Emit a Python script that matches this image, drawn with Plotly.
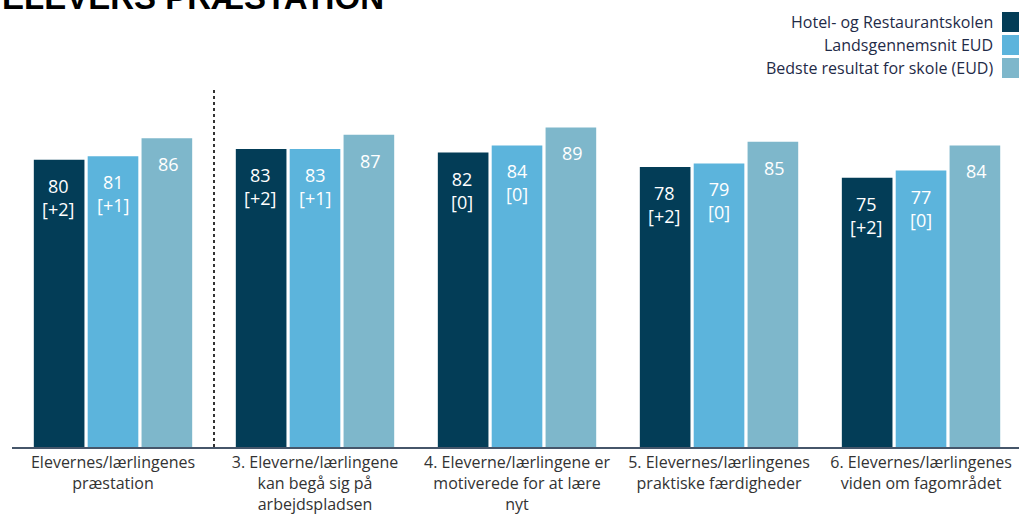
import plotly.graph_objects as go

categories = [
    "Elevernes/lærlingenes<br>præstation",
    "3. Eleverne/lærlingene<br>kan begå sig på<br>arbejdspladsen",
    "4. Eleverne/lærlingene er<br>motiverede for at lære<br>nyt",
    "5. Elevernes/lærlingenes<br>praktiske færdigheder",
    "6. Elevernes/lærlingenes<br>viden om fagområdet",
]
series_names = ["Hotel- og Restaurantskolen", "Landsgennemsnit EUD", "Bedste resultat for skole (EUD)"]
school = [80, 83, 82, 78, 75]
school_change = ["+2", "+2", "0", "+2", "+2"]
national = [81, 83, 84, 79, 77]
national_change = ["+1", "+1", "0", "0", "0"]
best = [86, 87, 89, 85, 84]
colors = ["#033d57", "#5cb4dc", "#7eb7cb"]
title = "ELEVERS PRÆSTATION"

x = list(range(len(categories)))
fig = go.Figure()
texts = [
    [f"{v}<br>[{c}]" for v, c in zip(school, school_change)],
    [f"{v}<br>[{c}]" for v, c in zip(national, national_change)],
    [f"{v}" for v in best],
]
shifts = [-55, 0, 55]
for name, vals, col, txt, sh in zip(series_names, [school, national, best], colors, texts, shifts):
    fig.add_trace(go.Bar(
        x=x, y=vals, name=name, marker=dict(color=col, line=dict(width=0)),
        showlegend=False, hoverinfo="skip",
    ))
    for xi, v, t in zip(x, vals, txt):
        fig.add_annotation(x=xi, y=v, xref="x", yref="y", text=t, showarrow=False,
                           xshift=sh, yshift=-12, yanchor="top", xanchor="center",
                           align="center",
                           font=dict(color="#ffffff", size=18, family="Open Sans"))

# custom legend (right aligned text, square on right)
for i, (name, col) in enumerate(zip(series_names, colors)):
    ypix = 22 + i * 23
    fig.add_annotation(xref="paper", yref="paper", x=1.0, xshift=-24,
                       y=1 + (88 - ypix) / 359, text=name, showarrow=False,
                       xanchor="right", yanchor="middle",
                       font=dict(size=16, color="#1f2b48", family="Open Sans"))
    fig.add_shape(type="rect", xref="paper", yref="paper",
                  x0=(1002 - 12) / 1007, x1=(1022 - 12) / 1007,
                  y0=1 + (88 - ypix - 10) / 359, y1=1 + (88 - ypix + 10) / 359,
                  fillcolor=col, line=dict(width=0))

fig.add_annotation(xref="paper", yref="paper", x=0, xshift=-12, y=1 + 88 / 359, yshift=2,
                   text=f"<b>{title}</b>", showarrow=False, xanchor="left", yanchor="middle",
                   font=dict(size=33, color="#000000", family="Liberation Sans"))

fig.add_shape(type="line", x0=0.5, x1=0.5, y0=0, y1=100, xref="x", yref="y",
              line=dict(color="#333333", width=2, dash="dot"))

fig.update_layout(
    width=1019, height=515, margin=dict(l=12, r=0, t=88, b=68),
    paper_bgcolor="white", plot_bgcolor="white",
    barmode="group", bargap=0.2, bargroupgap=0.06,
    font=dict(family="Open Sans", color="#333333"),
)
fig.update_xaxes(tickmode="array", tickvals=x, ticktext=categories,
                 range=[-0.5, 4.485], showline=True, linecolor="#46566a", linewidth=2,
                 ticks="", tickfont=dict(size=16, color="#333333", family="Open Sans"),
                 showgrid=False, zeroline=False)
fig.update_yaxes(range=[0, 100], visible=False, showgrid=False, zeroline=False)

fig.write_html("out.html")
